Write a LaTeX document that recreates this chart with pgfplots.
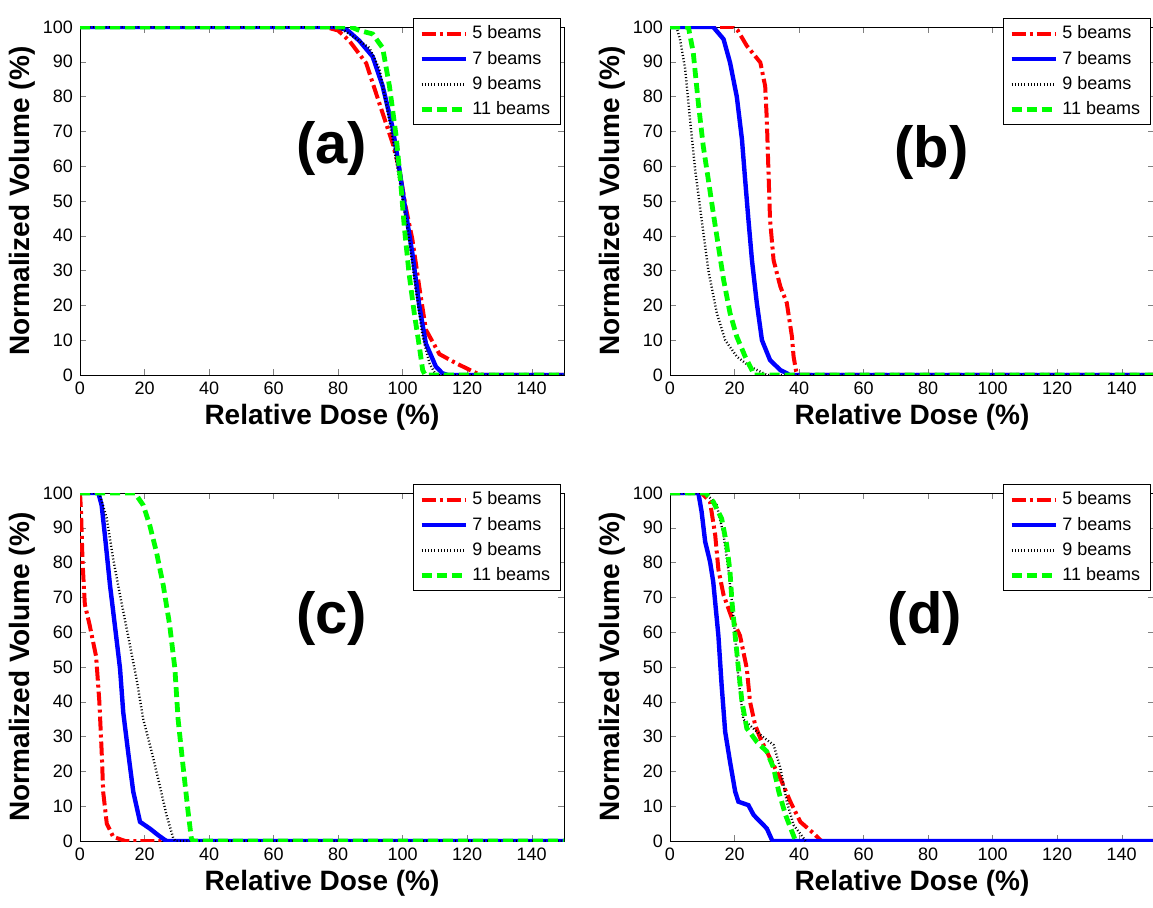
\documentclass[border=0pt]{standalone}
\usepackage{fontspec}
\setmainfont{Liberation Sans}
\usepackage{pgfplots}
\pgfplotsset{compat=1.18}

\definecolor{mred}{RGB}{255,0,0}
\definecolor{mblue}{RGB}{0,0,255}
\definecolor{mgreen}{RGB}{0,255,0}

\pgfplotsset{
  dvh/.style={
    scale only axis, width=242pt, height=174pt,
    anchor=south west,
    xmin=0, xmax=150, ymin=0, ymax=100,
    xtick={0,20,...,140}, ytick={0,10,...,100},
    tick align=inside, major tick length=3pt,
    tick label style={font=\fontsize{9}{10}\selectfont},
    /pgf/number format/assume math mode=true,
    xlabel={\textbf{Relative Dose (\%)}},
    ylabel={\textbf{Normalized Volume (\%)}},
    label style={font=\fontsize{14}{16}\selectfont},
    xlabel style={yshift=2pt},
    ylabel style={yshift=-3pt},
    legend style={at={(rel axis cs:0.993,1.025)}, anchor=north east,
      font=\fontsize{9}{10}\selectfont, draw=black, line width=0.5pt,
      row sep=0.6pt, inner xsep=3pt, inner ysep=1.5pt},
    legend cell align=left,
    legend image code/.code={\draw[##1] (0cm,0cm) -- (0.78cm,0cm);},
  },
  s5/.style={mred, line width=2pt, dash pattern=on 7pt off 2pt on 1.5pt off 2pt},
  s7/.style={mblue, line width=2.2pt},
  s9/.style={black, line width=1.2pt, dash pattern=on 0.5pt off 1.1pt},
  s11/.style={mgreen, line width=2.4pt, dash pattern=on 5pt off 2.5pt},
}

\begin{document}
\begin{tikzpicture}
\path[use as bounding box] (0,0) rectangle (576.5pt,453.5pt);

% (a)
\begin{axis}[dvh, at={(40pt,266pt)}]
\addplot[s5] coordinates {(0,100)(76,100)(80,99)(83.5,96)(88.7,89.6)(92.8,78)(96.9,66.6)(99,59)(101,48)(103,39)(105.2,25)(107.2,13)(111.4,6)(116.5,3.4)(122.7,0.6)(125,0)(150,0)};
\addplot[s7] coordinates {(0,100)(80,100)(83,99)(86.6,96)(90.7,91.5)(93.8,83)(96.9,71)(99,59)(101,46.5)(103,35)(105.2,19.6)(107.2,9)(110.3,2.4)(112.3,0.5)(114,0)(150,0)};
\addplot[s9] coordinates {(0,100)(80,100)(83.5,98)(89.7,94)(92.8,88)(95.9,73)(99,56)(102,39)(104,25)(106.2,11)(108.3,3.4)(110,0.5)(111,0)(150,0)};
\addplot[s11] coordinates {(0,100)(84,100)(86.6,99)(90.7,98)(93.8,94)(95.9,83)(98,68.5)(99.5,54)(100.5,42.6)(102,29)(103.6,17.7)(105.2,8)(106.2,1.4)(107,0)(150,0)};
\legend{5 beams,7 beams,9 beams,11 beams}
\node[font=\fontsize{29}{30}\selectfont\bfseries] at (axis cs:78,65) {(a)};
\end{axis}

% (b)
\begin{axis}[dvh, at={(335pt,266pt)}]
\addplot[s5] coordinates {(0,100)(19.7,100)(21,99)(23.8,94.6)(28,89.8)(29.5,83)(30,73.5)(30.5,59)(31,44.7)(32.1,33)(34.2,25.4)(36.2,20.7)(37.8,11)(38.3,5.3)(39.1,1)(39.5,0)(150,0)};
\addplot[s7] coordinates {(0,100)(13.4,100)(16.6,96.5)(18.6,89.8)(20.7,80)(22.3,67.7)(23.3,56)(24.3,44.7)(25.4,33)(26.9,20.7)(28.5,10)(31,4.3)(34.2,1.4)(36.2,0.5)(37,0)(150,0)};
\addplot[s9] coordinates {(0,100)(2,100)(3.1,96.5)(4.7,88)(6.2,73.5)(7.8,59)(9.8,44.7)(11.9,30)(14.5,17.8)(17.1,10)(20.7,5.3)(24.8,2.4)(29,0.5)(30,0)(150,0)};
\addplot[s11] coordinates {(0,100)(5.7,100)(7.2,92.7)(8.8,78)(10.3,65.8)(11.9,56)(13.4,46.6)(15,37)(16.6,27.4)(18.6,17.8)(20.7,11)(23.3,5.3)(25.4,1.4)(26,0)(150,0)};
\legend{5 beams,7 beams,9 beams,11 beams}
\node[font=\fontsize{29}{30}\selectfont\bfseries] at (axis cs:81,64) {(b)};
\end{axis}

% (c)
\begin{axis}[dvh, at={(40pt,33pt)}]
\addplot[s5] coordinates {(0,100)(0.3,95)(0.8,80)(1.5,68)(3,62)(5,53)(6,40)(6.7,26)(7.2,14)(8.3,5)(10.3,1.2)(14,0)(150,0)};
\addplot[s7] coordinates {(0,100)(5.7,100)(6.7,96.5)(7.7,88)(9.3,73.5)(10.8,62)(12.4,49.6)(13.4,37)(14.9,25.7)(16.5,14.2)(18.6,5.5)(21.6,3.6)(24.2,1.7)(26.3,0.3)(27,0)(150,0)};
\addplot[s9] coordinates {(0,100)(6,100)(8.3,92.7)(10.3,81)(12.4,70.7)(14.9,59)(17.5,46.7)(19.6,35)(22.2,25.7)(24.7,16)(26.8,7.5)(28.9,0.8)(29.5,0)(150,0)};
\addplot[s11] coordinates {(0,100)(17,100)(19.6,96.5)(21.6,90.8)(23.7,83)(25.8,73.5)(27.8,62)(29.4,49.6)(30.4,35)(32,21)(33.5,8.4)(34.5,0.8)(35,0)(150,0)};
\legend{5 beams,7 beams,9 beams,11 beams}
\node[font=\fontsize{29}{30}\selectfont\bfseries] at (axis cs:78,64) {(c)};
\end{axis}

% (d)
\begin{axis}[dvh, at={(335pt,33pt)}]
\addplot[s5] coordinates {(0,100)(9.8,100)(12.4,97.5)(14,88)(15,78)(16.6,70.7)(19.2,64)(21.7,59)(23.8,49.6)(24.8,40)(26.4,33.3)(28,29.5)(31,23.8)(34.2,18)(37.3,11.3)(40.4,5.5)(44.5,2.2)(46.6,0.3)(47,0)};
\addplot[s7] coordinates {(0,100)(8.8,100)(9.8,94.6)(10.9,86)(12.4,80.3)(13.4,74.5)(15,59)(16,44.8)(17.1,31.4)(18.6,22.8)(20.2,14.2)(21.2,11.3)(24.3,10.3)(25.9,7.5)(28,5.5)(30,3.6)(31.6,0.3)(32,0)(150,0)};
\addplot[s9] coordinates {(0,100)(11,100)(14.5,96.5)(16.6,88)(18.1,78)(19.2,68.8)(20.2,59)(21.2,46.7)(22.7,35)(28,30.5)(32.1,27.6)(34.2,21)(36.2,11.3)(38.3,4.6)(41.4,0.8)(42,0)};
\addplot[s11] coordinates {(0,100)(11,100)(13.4,97.5)(16,92.7)(17.6,85)(18.6,77.4)(19.2,68.8)(20.2,59)(21.2,49.6)(22.3,40)(23.8,32.4)(26.9,28.5)(30,25.7)(32.1,21)(33.7,14.2)(35.8,7.5)(37.8,2.7)(38.8,0.3)(39,0)};
\legend{5 beams,7 beams,9 beams,11 beams}
\node[font=\fontsize{29}{30}\selectfont\bfseries] at (axis cs:79,64) {(d)};
\end{axis}
\end{tikzpicture}
\end{document}
